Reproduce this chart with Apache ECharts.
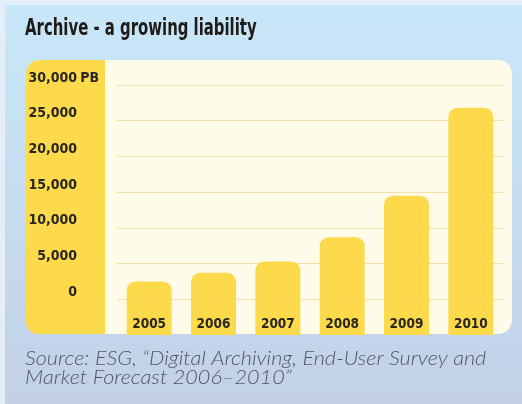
<!DOCTYPE html>
<html>
<head>
<meta charset="utf-8">
<script src="https://cdn.jsdelivr.net/npm/echarts@6/dist/echarts.min.js"></script>
<style>
html,body{margin:0;padding:0;background:#e4eef9;}
#chart{width:522px;height:404px;}
</style>
</head>
<body>
<div id="chart"></div>
<script>
const titleText = 'Archive - a growing liability';
const years = ['2005', '2006', '2007', '2008', '2009', '2010'];
const archivePB = [2500, 3700, 5300, 8700, 14500, 26800];
const yTicks = [0, 5000, 10000, 15000, 20000, 25000, 30000];
const unitLabel = 'PB';
const sourceLines = [
  'Source: ESG, \u201CDigital Archiving, End-User Survey and',
  'Market Forecast 2006\u20132010\u201D'
];

const YELLOW = '#fdd94c';
const CREAM = '#fffbe9';
const GRID = '#f4e2ab';
const TEXT = '#2a2620';
const COND = '"DejaVu Sans Condensed", "Liberation Sans Narrow", sans-serif';
const STEP = yTicks[1] - yTicks[0];
const AXIS_MIN = -STEP;            // space under the zero line for the year labels
const AXIS_MAX = yTicks[yTicks.length - 1];
const baseData = years.map(() => AXIS_MIN);

const chart = echarts.init(document.getElementById('chart'), null, {renderer: 'canvas'});

const fmt = v => v.toLocaleString('en-US');

chart.setOption({
  animation: false,
  backgroundColor: '#e4eef9',
  grid: {left: 117, right: 19, top: 85, bottom: 69, containLabel: false},
  xAxis: {
    type: 'category',
    data: years,
    axisLine: {show: false},
    axisTick: {show: false},
    axisLabel: {show: false}
  },
  yAxis: {
    type: 'value',
    min: AXIS_MIN,
    max: AXIS_MAX,
    interval: STEP,
    axisLine: {show: false},
    axisTick: {show: false},
    splitLine: {
      show: true,
      lineStyle: {color: ['rgba(0,0,0,0)', GRID, GRID, GRID, GRID, GRID, GRID, GRID], width: 1}
    },
    axisLabel: {
      margin: 18,
      align: 'right',
      verticalAlign: 'bottom',
      formatter: function (v) {
        if (v < 0) return '';
        const suffix = v === AXIS_MAX ? unitLabel : ' ';
        return '{v|' + fmt(v) + '}{u|' + suffix + '}';
      },
      rich: {
        v: {fontFamily: COND, fontWeight: 'bold', fontSize: 14, color: TEXT},
        u: {fontFamily: COND, fontWeight: 'bold', fontSize: 14, color: TEXT, width: 22, align: 'right'}
      }
    }
  },
  graphic: [
    {type: 'rect', z: -20, shape: {x: 5, y: 5, width: 517, height: 399},
     style: {fill: new echarts.graphic.LinearGradient(0, 0, 0, 1, [
       {offset: 0, color: '#c8e7f9'}, {offset: 0.5, color: '#c6dcf1'}, {offset: 1, color: '#c3d0e6'}])}},
    {type: 'rect', z: -15, shape: {x: 26, y: 60, width: 486, height: 274, r: 14},
     style: {fill: CREAM}},
    {type: 'rect', z: -14, shape: {x: 26, y: 60, width: 79, height: 274, r: [14, 0, 0, 12]},
     style: {fill: YELLOW}},
    {type: 'text', z: 10, x: 25, y: 18, scaleX: 0.72,
     style: {text: titleText, fill: '#1e1b18', font: 'bold 23px ' + COND, textVerticalAlign: 'top'}},
    {type: 'text', z: 10, x: 25, y: 349, scaleX: 1.11,
     style: {text: sourceLines[0], fill: '#505663', font: 'italic 300 19.5px Lato, "Liberation Sans", sans-serif', textVerticalAlign: 'top'}},
    {type: 'text', z: 10, x: 25, y: 367.5, scaleX: 1.11,
     style: {text: sourceLines[1], fill: '#505663', font: 'italic 300 19.5px Lato, "Liberation Sans", sans-serif', textVerticalAlign: 'top'}}
  ],
  series: [
    {
      type: 'bar',
      stack: 'archive',
      data: archivePB,
      barWidth: 45,
      itemStyle: {color: YELLOW, borderRadius: [9, 9, 0, 0]},
      z: 3
    },
    {
      type: 'bar',
      stack: 'archive',
      data: baseData,
      barWidth: 45,
      itemStyle: {color: YELLOW, borderRadius: 0},
      label: {
        show: true,
        position: 'insideBottom',
        distance: 4,
        formatter: '{b}',
        fontFamily: COND,
        fontWeight: 'bold',
        fontSize: 13.5,
        color: TEXT
      },
      z: 3
    }
  ]
});
</script>
</body>
</html>
